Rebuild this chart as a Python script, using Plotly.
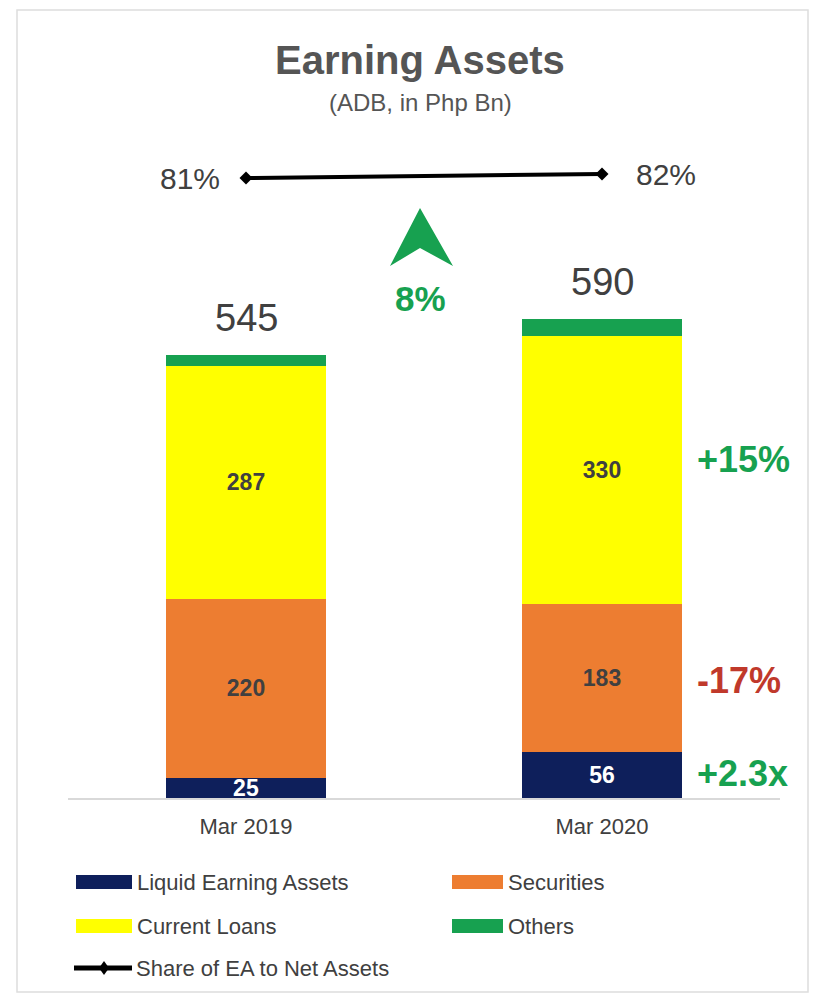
import plotly.graph_objects as go

# --- data -----------------------------------------------------------------
periods = ["Mar 2019", "Mar 2020"]
liquid = [25, 56]
securities = [220, 183]
current_loans = [287, 330]
others = [13, 21]
totals = [545, 590]
share_pct = [81, 82]
growth_total = "8%"
growth_labels = ["+2.3x", "-17%", "+15%"]

series_names = ["Liquid Earning Assets", "Securities", "Current Loans", "Others"]
series_values = [liquid, securities, current_loans, others]
series_colors = ["#0E1F5B", "#ED7D31", "#FFFF00", "#17A150"]
label_colors = ["#FFFFFF", "#404040", "#404040", None]
growth_colors = ["#17A150", "#C0392B", "#17A150"]
growth_yshift = [2, -2, 10]
share_name = "Share of EA to Net Assets"

W, H = 815, 997
ML, MR, MT, MB = 68, 35, 130, 199
PW, PH = W - ML - MR, H - MT - MB


def px(xp):
    return (xp - ML) / PW


def py(yp):
    return (H - MB - yp) / PH


FONT = "Liberation Sans, Arial, sans-serif"
DARK = "#404040"
GREEN = "#17A150"

fig = go.Figure()

for name, vals, col, lcol in zip(series_names, series_values, series_colors, label_colors):
    fig.add_trace(go.Bar(
        x=periods, y=vals, name=name, marker=dict(color=col, line=dict(width=0)),
        text=[str(v) for v in vals] if lcol else None,
        textposition="inside", insidetextanchor="middle", constraintext="none", textangle=0,
        textfont=dict(family=FONT, size=23, color=lcol or DARK, weight="bold"),
        showlegend=False, hoverinfo="skip",
    ))

fig.add_trace(go.Scatter(
    x=periods, y=share_pct, yaxis="y2", mode="lines+markers",
    line=dict(color="#000000", width=4),
    marker=dict(symbol="diamond", size=10, color="#000000"),
    showlegend=False, hoverinfo="skip",
))


def note(x, y, text, size, color, xref="paper", yref="paper", xanchor="center",
         yanchor="middle", xshift=0, yshift=0, bold=False):
    return dict(x=x, y=y, xref=xref, yref=yref, text=text, showarrow=False,
                xanchor=xanchor, yanchor=yanchor, xshift=xshift, yshift=yshift,
                font=dict(family=FONT, size=size, color=color, weight="bold" if bold else "normal"))


annotations = []
# totals above each stack
for p, t in zip(periods, totals):
    annotations.append(note(p, t, str(t), 38, DARK, xref="x", yref="y",
                            yanchor="bottom", yshift=14))
# share labels at both ends of the line
annotations.append(note(periods[0], share_pct[0], f"{share_pct[0]}%", 30, DARK,
                        xref="x", yref="y2", xanchor="right", xshift=-24))
annotations.append(note(periods[1], share_pct[1], f"{share_pct[1]}%", 30, DARK,
                        xref="x", yref="y2", xanchor="left", xshift=32))
# growth of each segment, next to the 2020 bar
cum = 0
for vals, g, gc, ys in zip(series_values[:3], growth_labels, growth_colors, growth_yshift):
    mid = cum + vals[1] / 2
    cum += vals[1]
    annotations.append(note(periods[1], mid, g, 36, gc, xref="x", yref="y",
                            xanchor="left", xshift=93, yshift=ys, bold=True))
# overall growth
annotations.append(note(px(420), py(298), growth_total, 35, GREEN, bold=True))
# titles
annotations.append(note(px(420), py(60), "Earning Assets", 40, "#555555", bold=True))
annotations.append(note(px(420), py(102), "(ADB, in Php Bn)", 24, "#555555"))

shapes = []
# outer frame
shapes.append(dict(type="rect", xref="paper", yref="paper", x0=px(17), x1=px(808), y0=py(10), y1=py(992),
                   line=dict(color="#DDDDDD", width=1.5), fillcolor="rgba(0,0,0,0)", layer="below"))
# up arrow
path = "M {} {} L {} {} L {} {} L {} {} Z".format(px(420), py(208), px(390), py(266),
                                                   px(420), py(248), px(453), py(266))
shapes.append(dict(type="path", xref="paper", yref="paper", path=path,
                   fillcolor=GREEN, line=dict(width=0)))

# legend entries drawn as swatches plus labels
legend_rows = [882, 926]
legend_cols = [(76, 132), (452, 503)]
for i, (name, col) in enumerate(zip(series_names, series_colors)):
    r, c = divmod(i, 2)
    x0, x1 = legend_cols[c]
    yc = legend_rows[r]
    shapes.append(dict(type="rect", xref="paper", yref="paper", x0=px(x0), x1=px(x1),
                       y0=py(yc + 7), y1=py(yc - 7), fillcolor=col, line=dict(width=0)))
    annotations.append(note(px(x1 + 3), py(yc), name, 22, DARK, xanchor="left"))
yc = 968
shapes.append(dict(type="line", xref="paper", yref="paper", x0=px(74), x1=px(132), y0=py(yc), y1=py(yc),
                   line=dict(color="#000000", width=5)))
diamond = "M {} {} L {} {} L {} {} L {} {} Z".format(px(104), py(yc - 7), px(109), py(yc),
                                                     px(104), py(yc + 7), px(99), py(yc))
shapes.append(dict(type="path", xref="paper", yref="paper", path=diamond,
                   fillcolor="#000000", line=dict(width=0)))
annotations.append(note(px(134), py(yc), share_name, 22, DARK, xanchor="left"))

fig.update_layout(
    width=W, height=H,
    margin=dict(l=ML, r=MR, t=MT, b=MB),
    paper_bgcolor="white", plot_bgcolor="white",
    barmode="stack", bargap=0.55,
    showlegend=False,
    font=dict(family=FONT, color=DARK),
    xaxis=dict(type="category", range=[-0.5, 1.5], showline=True, linecolor="#D9D9D9", linewidth=1.5,
               ticks="", showgrid=False, ticklabelstandoff=8,
               tickfont=dict(family=FONT, size=22, color=DARK)),
    yaxis=dict(range=[0, 822], visible=False, showgrid=False),
    yaxis2=dict(range=[-74, 93], overlaying="y", visible=False, showgrid=False),
    annotations=annotations,
    shapes=shapes,
)

fig.write_html("out.html")
